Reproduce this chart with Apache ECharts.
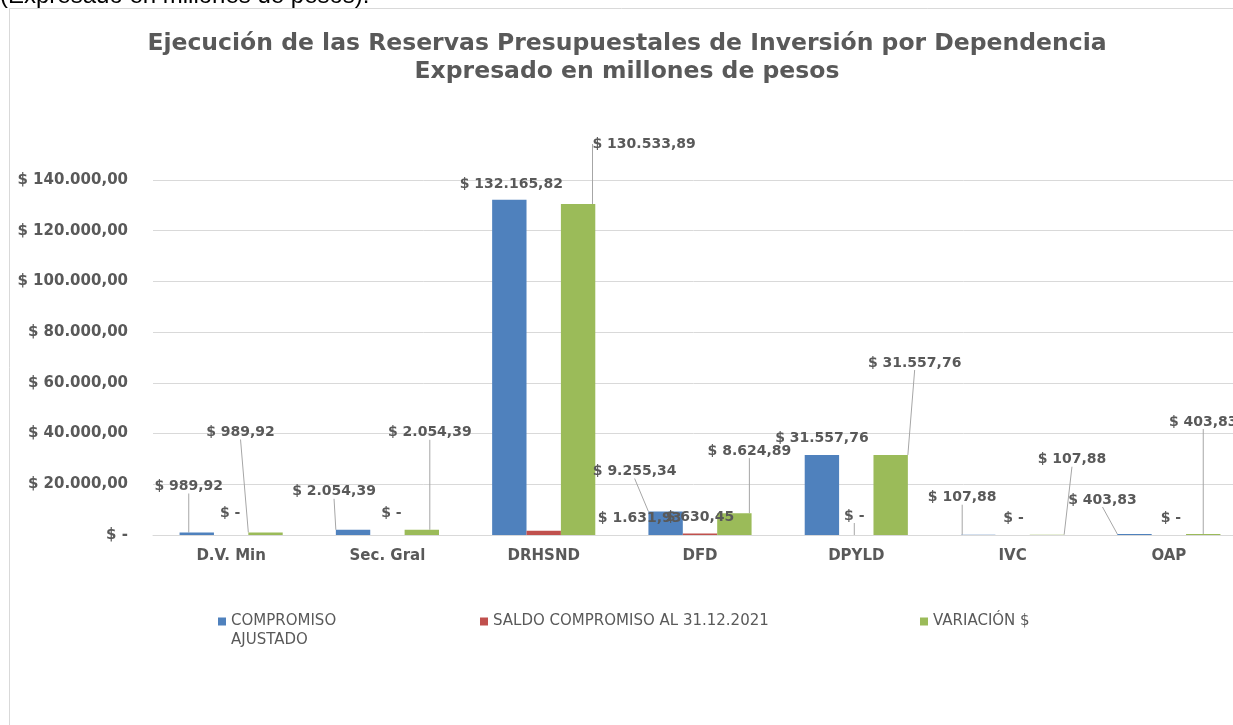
<!DOCTYPE html>
<html lang="es">
<head>
<meta charset="UTF-8">
<title>Ejecución de las Reservas Presupuestales</title>
<style>
    html, body { margin: 0; padding: 0; background: #fff; }
    #chart { width: 1233px; height: 725px; }
</style>
</head>
<body>
<div id="chart"></div>
<script src="https://cdn.jsdelivr.net/npm/echarts@6/dist/echarts.min.js"></script>
<script>
    // datos
    var categories = ['D.V. Min', 'Sec. Gral', 'DRHSND', 'DFD', 'DPYLD', 'IVC', 'OAP'];
    var compromisoAjustado = [989.92, 2054.39, 132165.82, 9255.34, 31557.76, 107.88, 403.83];
    var saldoCompromiso = [0, 0, 1631.93, 630.45, 0, 0, 0];
    var variacion = [989.92, 2054.39, 130533.89, 8624.89, 31557.76, 107.88, 403.83];
    var seriesNames = ['COMPROMISO AJUSTADO', 'SALDO COMPROMISO AL 31.12.2021', 'VARIACIÓN $'];
    var yTicks = { min: 0, max: 140000, interval: 20000 };

    // desplazamiento de las etiquetas (px) respecto a su sitio normal
    var labelShift = [
        [[-8, -34], [-19, -26], [2, -4], [-31, -28], [0, -5], [-16, -25], [-32, -22]],
        [[-1, -10], [4, -10], [96, -1], [0, -4], [-2, -7], [1, -5], [2, -5]],
        [[-25, -88], [8, -85], [66, -48], [15, -50], [24, -80], [25, -63], [0, -100]]
    ];
    // etiquetas con línea guía
    var withLine = [
        [1, 1, 0, 1, 0, 1, 1],
        [0, 0, 0, 0, 1, 0, 0],
        [1, 1, 1, 1, 1, 1, 1]
    ];

    var grey = '#595959';
    var font = 'DejaVu Sans';

    function money(v) {
        if (v === 0) return '$ -';
        var parts = v.toFixed(2).split('.');
        return '$ ' + parts[0].replace(/\B(?=(\d{3})+(?!\d))/g, '.') + ',' + parts[1];
    }

    var colors = ['#4F81BD', '#C0504D', '#9BBB59'];
    var values = [compromisoAjustado, saldoCompromiso, variacion];

    var series = values.map(function (arr, s) {
        return {
            name: seriesNames[s],
            type: 'bar',
            data: arr.map(function (v, i) {
                return { value: v, labelLine: { show: !!withLine[s][i] } };
            }),
            barGap: 0,
            barCategoryGap: '34%',
            itemStyle: { color: colors[s] },
            label: {
                show: true,
                position: 'top',
                distance: 5,
                color: grey,
                fontFamily: font,
                fontWeight: 'bold',
                fontSize: 14,
                formatter: function (p) { return money(p.value); }
            },
            labelLine: {
                show: true,
                lineStyle: { color: '#a6a6a6', width: 1 }
            },
            labelLayout: function (p) {
                var o = labelShift[p.seriesIndex][p.dataIndex];
                return { dx: o[0], dy: o[1] };
            }
        };
    });

    function legendAt(name, left) {
        var twoLines = name === 'COMPROMISO AJUSTADO';
        return {
            data: [name],
            left: left,
            top: twoLines ? 588 : 607,
            icon: 'rect',
            itemWidth: 8,
            itemHeight: 8,
            itemGap: 4,
            selectedMode: false,
            // línea vacía arriba para que el cuadro quede junto a la primera línea
            formatter: function (n) { return twoLines ? ' \nCOMPROMISO\nAJUSTADO' : n; },
            textStyle: {
                color: grey,
                fontFamily: font,
                fontSize: 15,
                lineHeight: 19
            }
        };
    }

    var chart = echarts.init(document.getElementById('chart'));
    chart.setOption({
        animation: false,
        color: colors,
        title: {
            text: 'Ejecución de las Reservas Presupuestales de Inversión por Dependencia\nExpresado en millones de pesos',
            left: 622,
            textAlign: 'center',
            top: 25,
            textStyle: {
                color: grey,
                fontFamily: font,
                fontWeight: 'bold',
                fontSize: 23.5,
                lineHeight: 28
            }
        },
        graphic: [
            {
                type: 'rect',
                shape: { x: 9.5, y: 8.5, width: 1300, height: 800 },
                style: { fill: 'none', stroke: '#d9d9d9', lineWidth: 1 },
                silent: true
            },
            {
                type: 'text',
                left: 0,
                top: -16,
                style: {
                    text: '(Expresado en millones de pesos).',
                    fill: '#000',
                    font: '24px "Liberation Sans", Arial, sans-serif'
                },
                silent: true
            }
        ],
        legend: [
            legendAt(seriesNames[0], 213),
            legendAt(seriesNames[1], 475),
            legendAt(seriesNames[2], 915)
        ],
        grid: { left: 153, width: 1094, top: 180, bottom: 190, containLabel: false, outerBoundsMode: 'none' },
        xAxis: {
            type: 'category',
            data: categories,
            axisLine: { lineStyle: { color: '#d9d9d9' } },
            axisTick: { show: false },
            axisLabel: {
                color: grey,
                fontFamily: font,
                fontWeight: 'bold',
                fontSize: 15,
                margin: 14
            }
        },
        yAxis: {
            type: 'value',
            min: yTicks.min,
            max: yTicks.max,
            interval: yTicks.interval,
            axisLine: { show: false },
            axisTick: { show: false },
            splitLine: { lineStyle: { color: '#d9d9d9' } },
            axisLabel: {
                color: grey,
                fontFamily: font,
                fontWeight: 'bold',
                fontSize: 15,
                margin: 25,
                formatter: function (v) { return money(v); }
            }
        },
        series: series
    });
</script>
</body>
</html>
